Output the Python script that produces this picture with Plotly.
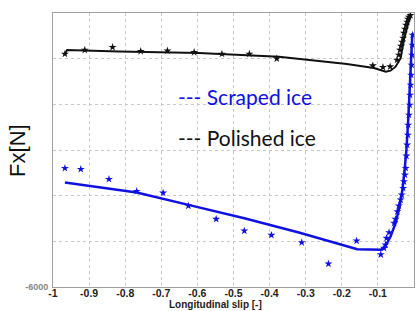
import plotly.graph_objects as go

# Polished ice (black) measured points
pol_x = [-0.967, -0.912, -0.835, -0.757, -0.683, -0.609, -0.532, -0.456, -0.380,
         -0.114, -0.086, -0.066, -0.047, -0.042, -0.039, -0.036, -0.033, -0.030,
         -0.028, -0.025, -0.022, -0.019, -0.017, -0.014, -0.010]
pol_y = [-897, -810, -750, -838, -825, -860, -897, -897, -1000,
         -1153, -1188, -1175, -1028, -919, -810, -722, -635, -547,
         -438, -350, -263, -197, -131, -88, -50]
# Polished ice fitted curve
pol_fit_x = [-0.967, -0.961, -0.817, -0.596, -0.374, -0.305, -0.186, -0.111, -0.078,
             -0.065, -0.051, -0.037, -0.028, -0.016, -0.009]
pol_fit_y = [-897, -810, -842, -875, -956, -1013, -1116, -1203, -1284,
             -1263, -1175, -991, -591, -225, -44]

# Scraped ice (blue) measured points
scr_x = [-0.967, -0.923, -0.845, -0.768, -0.695, -0.625, -0.548, -0.470, -0.395,
         -0.311, -0.237, -0.159, -0.092, -0.083, -0.079, -0.076, -0.069, -0.055,
         -0.051, -0.046, -0.042, -0.037, -0.034, -0.030, -0.028, -0.025, -0.023,
         -0.021, -0.019, -0.017, -0.016, -0.014, -0.012, -0.011, -0.0094, -0.0080,
         -0.0066, -0.0055, -0.0044, -0.0036]
scr_y = [-3398, -3420, -3639, -3902, -3939, -4223, -4514, -4770, -4865,
         -5026, -5492, -4989, -5289, -5149, -5077, -4930, -4807, -4602,
         -4514, -4348, -4223, -4092, -3982, -3836, -3691, -3545, -3398,
         -3129, -2888, -2670, -2451, -2232, -2013, -1794, -1575, -1357,
         -1138, -919, -700, -481]
# Scraped ice fitted curve
scr_fit_x = [-0.967, -0.768, -0.625, -0.470, -0.319, -0.157, -0.092, -0.080, -0.065,
             -0.051, -0.040, -0.032, -0.026, -0.021, -0.016, -0.011, -0.0075, -0.0046]
scr_fit_y = [-3713, -3932, -4201, -4493, -4807, -5171, -5186, -5114, -4895,
             -4602, -4238, -3873, -3435, -2998, -2341, -1538, -810, -445]

x_ticks = [-1, -0.9, -0.8, -0.7, -0.6, -0.5, -0.4, -0.3, -0.2, -0.1, 0]
x_labels = ["-1", "-0.9", "-0.8", "-0.7", "-0.6", "-0.5", "-0.4", "-0.3", "-0.2", "-0.1", "0"]
y_ticks = [-6000, -5000, -4000, -3000, -2000, -1000, 0]

BLUE = "#1010e0"
BLACK = "#111111"

fig = go.Figure()
fig.add_trace(go.Scatter(x=pol_fit_x, y=pol_fit_y, mode="lines",
                         line=dict(color=BLACK, width=2), showlegend=False))
fig.add_trace(go.Scatter(x=pol_x, y=pol_y, mode="markers",
                         marker=dict(symbol="star", size=6, color=BLACK), showlegend=False))
fig.add_trace(go.Scatter(x=scr_fit_x, y=scr_fit_y, mode="lines",
                         line=dict(color=BLUE, width=2.5), showlegend=False))
fig.add_trace(go.Scatter(x=scr_x, y=scr_y, mode="markers",
                         marker=dict(symbol="star", size=6, color=BLUE), showlegend=False))

fig.update_layout(
    width=417, height=311,
    margin=dict(l=53, r=3, t=13, b=24, autoexpand=False),
    paper_bgcolor="white", plot_bgcolor="white",
    xaxis=dict(range=[-1, 0], tickvals=x_ticks, ticktext=x_labels, automargin=False,
               showgrid=True, gridcolor="#c8c8c8", griddash="dot", gridwidth=1,
               showline=True, linecolor="#a0a0a0", linewidth=1, mirror=True,
               zeroline=False, ticks="", ticklabelstandoff=-4,
               tickfont=dict(family="Liberation Sans", size=10.5, color="#222", weight="bold")),
    yaxis=dict(range=[-6000, 0], tickvals=y_ticks, automargin=False,
               ticktext=["-6000", "", "", "", "", "", ""],
               showgrid=True, gridcolor="#c8c8c8", griddash="dot", gridwidth=1,
               showline=True, linecolor="#a0a0a0", linewidth=1, mirror=True,
               zeroline=False, ticks="", ticklabelstandoff=2,
               tickfont=dict(family="Liberation Sans", size=9, color="#888", weight="bold")),
    annotations=[
        dict(text="Longitudinal slip [-]", xref="paper", yref="paper", x=0.45, y=-0.064,
             xanchor="center", yanchor="middle", showarrow=False,
             font=dict(family="Liberation Sans", size=10, color="#222", weight="bold")),
        dict(text="Fx[N]", xref="paper", yref="paper", x=-0.1, y=0.5,
             xanchor="center", yanchor="middle", textangle=-90, showarrow=False,
             font=dict(family="Liberation Sans", size=22, color="#111")),
        dict(text="--- Scraped ice", xref="paper", yref="paper", x=0.34, y=0.695,
             xanchor="left", yanchor="middle", showarrow=False,
             font=dict(family="Lato", size=21, color=BLUE)),
        dict(text="--- Polished ice", xref="paper", yref="paper", x=0.34, y=0.545,
             xanchor="left", yanchor="middle", showarrow=False,
             font=dict(family="Lato", size=21, color=BLACK)),
    ],
)

fig.write_html("out.html", config={"displayModeBar": False},
               post_script="document.body.style.margin='0px';")
